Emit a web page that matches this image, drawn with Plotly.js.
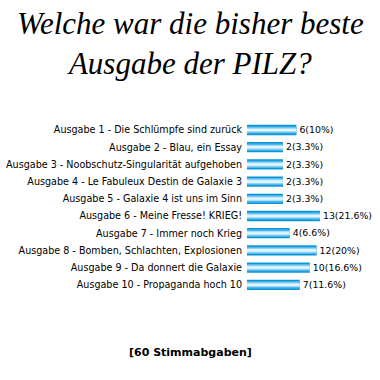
<!DOCTYPE html>
<html>
<head>
<meta charset="utf-8">
<script src="https://cdn.plot.ly/plotly-3.0.1.min.js"></script>
<style>html,body{margin:0;padding:0;background:#fff;}#chart{width:380px;height:380px;}</style>
</head>
<body>
<div id="chart"></div>
<script>
const categories = [
  "Ausgabe 1 - Die Schlümpfe sind zurück",
  "Ausgabe 2 - Blau, ein Essay",
  "Ausgabe 3 - Noobschutz-Singularität aufgehoben",
  "Ausgabe 4 - Le Fabuleux Destin de Galaxie 3",
  "Ausgabe 5 - Galaxie 4 ist uns im Sinn",
  "Ausgabe 6 - Meine Fresse! KRIEG!",
  "Ausgabe 7 - Immer noch Krieg",
  "Ausgabe 8 - Bomben, Schlachten, Explosionen",
  "Ausgabe 9 - Da donnert die Galaxie",
  "Ausgabe 10 - Propaganda hoch 10"
];
const votes = [6, 2, 2, 2, 2, 13, 4, 12, 10, 7];
const percentLabels = ["10", "3.3", "3.3", "3.3", "3.3", "21.6", "6.6", "20", "16.6", "11.6"];
const titleText = "Welche war die bisher beste<br>Ausgabe der PILZ?";
const footerText = "[60 Stimmabgaben]";

const valueLabels = votes.map((v, i) => v + "(" + percentLabels[i] + "%)");
const BASE = -8.7;
const layers = [
  {w: 0.60, c: "#0a96dc", text: true},
  {w: 0.42, c: "#4fb8ea", text: false},
  {w: 0.26, c: "#a9dcf5", text: false},
  {w: 0.12, c: "#e6f6fd", text: false}
];
const traces = layers.map(L => ({
  type: "bar",
  orientation: "h",
  y: categories,
  x: votes.map(v => v - BASE),
  base: BASE,
  width: L.w,
  marker: {color: L.c, line: {width: 0}},
  text: L.text ? valueLabels : undefined,
  textposition: L.text ? "outside" : "none",
  textfont: {family: "DejaVu Sans, Verdana, sans-serif", size: 10, color: "#000"},
  cliponaxis: false,
  hoverinfo: "none"
}));

const layout = {
  width: 380, height: 380,
  margin: {l: 0, r: 0, t: 0, b: 0},
  paper_bgcolor: "#fff", plot_bgcolor: "#fff",
  showlegend: false,
  barmode: "overlay",
  xaxis: {domain: [247/380, 1], range: [BASE, BASE + 133/3.36], visible: false, fixedrange: true},
  yaxis: {domain: [(380-293.4)/380, (380-121.4)/380], type: "category", autorange: "reversed",
          showgrid: false, zeroline: false, showline: false, ticks: "", ticklabelstandoff: 4,
          tickfont: {family: "DejaVu Sans, Verdana, sans-serif", size: 9.6, color: "#000"}},
  annotations: [
    {text: titleText, xref: "paper", yref: "paper", x: 0.5, y: 1 - 43/380, xanchor: "center", yanchor: "middle",
     showarrow: false, font: {family: "Liberation Serif, serif", size: 31, style: "italic", color: "#000"}},
    {text: "<b>" + footerText + "</b>", xref: "paper", yref: "paper", x: 190/380, y: 1 - 352/380, xanchor: "center", yanchor: "middle",
     showarrow: false, font: {family: "DejaVu Sans, Verdana, sans-serif", size: 11, color: "#000"}}
  ]
};
Plotly.newPlot("chart", traces, layout, {staticPlot: true, displayModeBar: false});
</script>
</body>
</html>
